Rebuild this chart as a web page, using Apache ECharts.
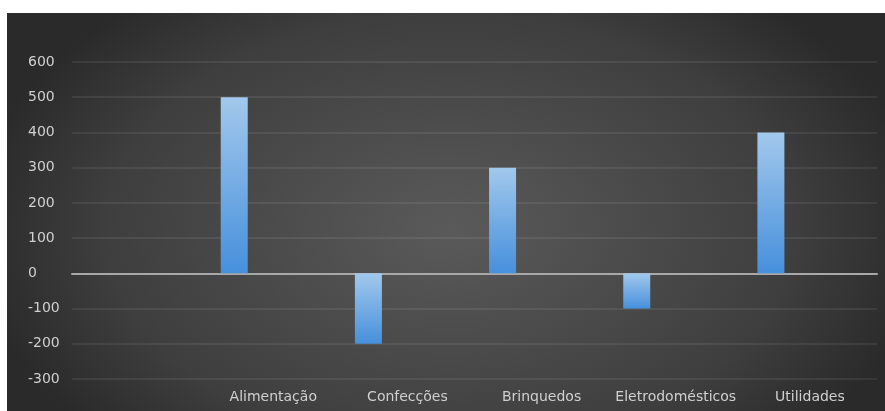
<!DOCTYPE html>
<html>
<head>
<meta charset="utf-8">
<script src="https://cdn.jsdelivr.net/npm/echarts@6/dist/echarts.min.js"></script>
<style>
html,body{margin:0;padding:0;background:#fff;}
#c{width:885px;height:411px;}
</style>
</head>
<body>
<div id="c"></div>
<script>
const categories = ['', 'Alimentação', 'Confecções', 'Brinquedos', 'Eletrodomésticos', 'Utilidades'];
const values = [null, 500, -200, 300, -100, 400];
const emptySeries = [null, null, null, null, null, null];
const yTicks = { min: -300, max: 600, interval: 100 };

const chart = echarts.init(document.getElementById('c'));
const barGrad = new echarts.graphic.LinearGradient(0, 0, 0, 1, [
  { offset: 0, color: '#a2c8ec' },
  { offset: 1, color: '#4690dc' }
]);
const labelFont = 'DejaVu Sans';
chart.setOption({
  animation: false,
  backgroundColor: '#ffffff',
  graphic: [{
    type: 'rect',
    z: -10,
    silent: true,
    x: 7, y: 13, scaleX: 1.6, scaleY: 1,
    shape: { x: 0, y: 0, width: 549, height: 398 },
    style: {
      fill: new echarts.graphic.RadialGradient(0.505, 0.545, 0.754, [
        { offset: 0, color: '#5a5a5a' },
        { offset: 0.72, color: '#3e3e3e' },
        { offset: 1, color: '#2a2a2a' }
      ])
    }
  }],
  grid: { left: 72, right: 8, top: 62, bottom: 32 },
  xAxis: [{
    type: 'category',
    data: categories,
    axisLine: { show: false, onZero: false },
    axisTick: { show: false },
    axisLabel: { color: '#d0d0d0', fontSize: 14, fontFamily: labelFont, margin: 11, interval: 0 }
  }, {
    type: 'category',
    data: categories,
    position: 'bottom',
    axisLine: { show: true, onZero: true, lineStyle: { color: '#a8a8a8', width: 2 } },
    axisTick: { show: false },
    axisLabel: { show: false }
  }],
  yAxis: {
    type: 'value',
    min: yTicks.min, max: yTicks.max, interval: yTicks.interval,
    axisLine: { show: false },
    axisTick: { show: false },
    splitLine: { lineStyle: { color: 'rgba(255,255,255,0.1)', width: 1.5 } },
    axisLabel: { color: '#d0d0d0', fontSize: 14, fontFamily: labelFont, align: 'left', margin: 44 }
  },
  series: [{
    type: 'bar',
    data: values,
    barWidth: 27,
    barGap: '189%',
    itemStyle: { color: barGrad }
  }, {
    type: 'bar',
    data: emptySeries,
    barWidth: 27
  }]
});
</script>
</body>
</html>
